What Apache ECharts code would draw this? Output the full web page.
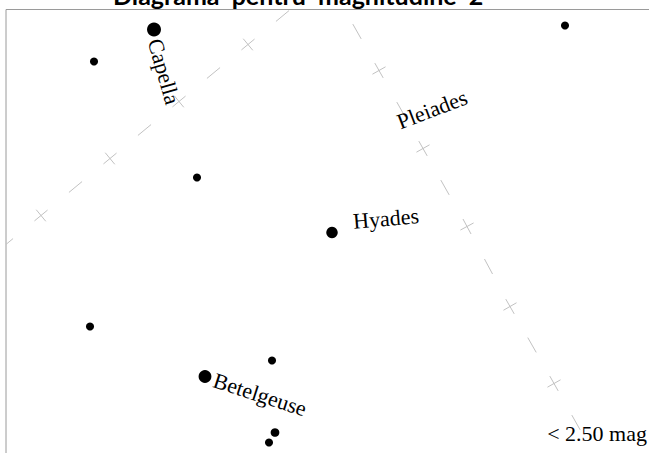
<!DOCTYPE html>
<html><head><meta charset="utf-8">
<script src="https://cdn.jsdelivr.net/npm/echarts@6/dist/echarts.min.js"></script>
<style>html,body{margin:0;padding:0;background:#fff;overflow:hidden}#c{width:649px;height:453px}</style>
</head><body><div id="c"></div>
<script>
// Stars brighter than magnitude 2.5 (chart-plane coordinates)
const starNames = ['Capella','Menkalinan','El Nath','Aldebaran','Mirfak','Alhena','Bellatrix','Betelgeuse','Alnilam','Alnitak'];
const starX = [148, 88, 191, 326, 559, 84, 266, 199, 269, 263];
const starY = [20, 52, 168, 223, 16, 317, 351, 367, 423, 433];
const starMag = [0.1, 1.9, 1.9, 0.85, 1.9, 1.9, 1.9, 0.45, 1.7, 1.9];

// Name labels
const labelTexts = ['Capella', 'Pleiades', 'Hyades', 'Betelgeuse'];
const labelX = [158, 426, 380, 254];
const labelY = [62, 100, 209, 385];

// Graticule lines (cross points)
const grat1X = [-34, 35, 104, 173, 242, 311];
const grat1Y = [263, 206, 149, 92, 35, -22];
const grat2X = [329, 373, 417, 461, 504, 548, 592];
const grat2Y = [-17, 61, 139, 217, 297, 374, 452];

const titleText = 'Diagrama  pentru  magnitudine  2';
const limitText = '< 2.50 mag';

// styles
const labelRotate = { 'Capella': -74, 'Pleiades': 21, 'Hyades': 5, 'Betelgeuse': -18 };
const gratColor = '#c2c2c2';
const serifFont = '22px "Liberation Serif", serif';

function gratSeries(xs, ys) {
  return {
    type: 'custom', coordinateSystem: 'cartesian2d', clip: true, silent: true, z: 1,
    data: xs.map((x, i) => [x, ys[i]]),
    renderItem(params, api) {
      const i = params.dataIndex;
      const p = api.coord([xs[i], ys[i]]);
      const j = i < xs.length - 1 ? i + 1 : i - 1;
      const q = api.coord([xs[j], ys[j]]);
      let dx = q[0] - p[0], dy = q[1] - p[1];
      const L = Math.hypot(dx, dy); dx /= L; dy /= L;
      const a = 8.5, b = 7.5;
      const st = () => ({ stroke: gratColor, lineWidth: 1 });
      const children = [
        { type: 'line', shape: { x1: p[0] - dx * a, y1: p[1] - dy * a, x2: p[0] + dx * a, y2: p[1] + dy * a }, style: st() },
        { type: 'line', shape: { x1: p[0] + dy * b, y1: p[1] - dx * b, x2: p[0] - dy * b, y2: p[1] + dx * b }, style: st() }
      ];
      if (i < xs.length - 1) {
        const mx = (p[0] + q[0]) / 2, my = (p[1] + q[1]) / 2;
        children.push({ type: 'line', shape: { x1: mx - dx * a, y1: my - dy * a, x2: mx + dx * a, y2: my + dy * a }, style: st() });
      }
      return { type: 'group', children };
    }
  };
}

const chart = echarts.init(document.getElementById('c'), null, { renderer: 'svg' });
chart.setOption({
  animation: false,
  backgroundColor: '#fff',
  grid: { left: 6, top: 9.5, width: 660, height: 460, outerBoundsMode: 'none', containLabel: false,
          show: true, borderColor: '#9a9a9a', borderWidth: 1, backgroundColor: 'transparent' },
  xAxis: { type: 'value', min: 0, max: 660, show: false },
  yAxis: { type: 'value', min: 0, max: 460, inverse: true, show: false },
  graphic: [
    { type: 'text', x: 113, y: -5, silent: true,
      style: { text: titleText, font: 'bold 25px Lato', fill: '#000', align: 'left', verticalAlign: 'middle' } },
    { type: 'text', x: 647, y: 433, silent: true,
      style: { text: limitText, font: serifFont, fill: '#000', align: 'right', verticalAlign: 'middle' } }
  ],
  series: [
    gratSeries(grat1X, grat1Y),
    gratSeries(grat2X, grat2Y),
    {
      type: 'scatter', z: 3, silent: true,
      data: starX.map((x, i) => ({ name: starNames[i], value: [x, starY[i], starMag[i]] })),
      symbol: 'circle',
      symbolSize: v => 14.3 - 3.3 * v[2],
      itemStyle: { color: '#000', opacity: 1 }
    },
    {
      type: 'custom', coordinateSystem: 'cartesian2d', z: 4, silent: true, clip: false,
      data: labelTexts.map((t, i) => ({ name: t, value: [labelX[i], labelY[i]] })),
      renderItem(params, api) {
        const t = labelTexts[params.dataIndex];
        const p = api.coord([api.value(0), api.value(1)]);
        return {
          type: 'text', x: p[0], y: p[1], rotation: labelRotate[t] * Math.PI / 180,
          style: { text: t, font: serifFont, fill: '#000', align: 'center', verticalAlign: 'middle' }
        };
      }
    }
  ]
});
</script>
</body></html>
